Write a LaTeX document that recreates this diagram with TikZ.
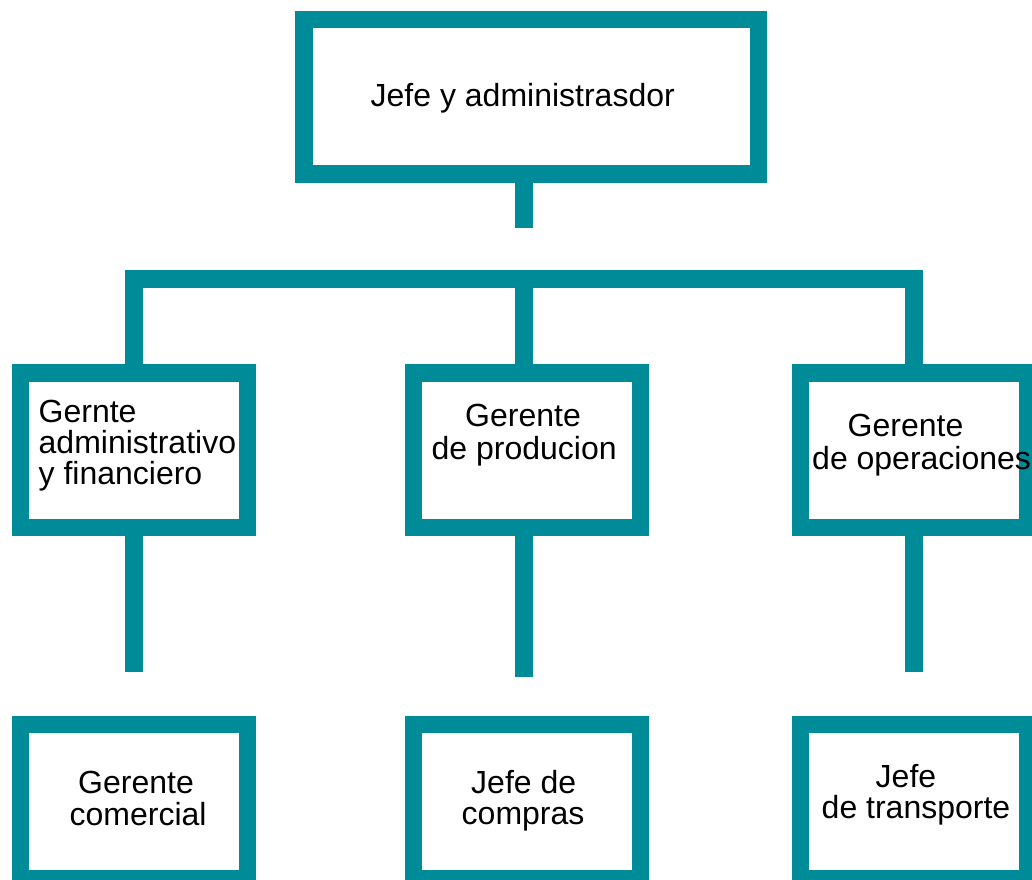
\documentclass[tikz,border=0pt]{standalone}
\usepackage{fontspec}
\setmainfont{Liberation Sans}
\definecolor{tealbox}{RGB}{0,139,153}
\begin{document}
\begin{tikzpicture}[x=1pt,y=-1pt,
  box/.style={draw=tealbox, line width=17.4pt, fill=white, rectangle, inner sep=0pt,
    minimum width=226.9pt, minimum height=154.5pt},
  link/.style={draw=tealbox, line width=17.4pt, line cap=butt, line join=miter},
  lbl/.style={anchor=base west, inner sep=0pt, font=\fontsize{32pt}{32pt}\selectfont, text=black}]
\useasboundingbox (0,0) rectangle (1032,879);
\clip (0,0) rectangle (1032,879);
\fill[white] (0,0) rectangle (1032,879);
% boxes
\node[box, minimum width=454.5pt, minimum height=154.3pt] (top) at (531.3,96.85) {};
\node[box] (l1) at (133.85,450.35) {};
\node[box] (m1) at (527.15,450.35) {};
\node[box] (r1) at (913.9,450.35) {};
\node[box] (l2) at (133.85,801.55) {};
\node[box] (m2) at (527.15,801.55) {};
\node[box] (r2) at (913.9,801.55) {};
% connector coordinates
\coordinate (topend) at (524,227.7);
\coordinate (bar) at (0,278.85);
\coordinate (lend) at (133.85,671.7);
\coordinate (mend) at (524,677);
\coordinate (rend) at (913.9,671.7);
% connectors
\draw[link] (top.south -| topend) -- (topend);
\draw[link] (l1.north) -- (l1.north |- bar) -- (r1.north |- bar) -- (r1.north);
\draw[link] (topend |- bar) -- (topend |- m1.north);
\draw[link] (l1.south) -- (lend);
\draw[link] (m1.south -| mend) -- (mend);
\draw[link] (r1.south) -- (rend);
% labels
\node[lbl] (t0) at (370.5,106) {Jefe y administrasdor};
\node[lbl] (tl1a) at (38.5,422.8) {Gernte};
\node[lbl] (tl1b) at (38.5,453.5) {administrativo};
\node[lbl] (tl1c) at (38.5,484) {y financiero};
\node[lbl] (tm1a) at (465,426.7) {Gerente};
\node[lbl] (tm1b) at (431.5,459.3) {de producion};
\node[lbl] (tr1a) at (847.5,436.7) {Gerente};
\node[lbl] (tr1b) at (812,469) {de operaciones};
\node[lbl] (tl2a) at (78,793.3) {Gerente};
\node[lbl] (tl2b) at (69.5,825) {comercial};
\node[lbl] (tm2a) at (471,793.3) {Jefe de};
\node[lbl] (tm2b) at (461.5,824.3) {compras};
\node[lbl] (tr2a) at (875.5,787.7) {Jefe};
\node[lbl] (tr2b) at (821.5,818.3) {de transporte};
\end{tikzpicture}
\end{document}
